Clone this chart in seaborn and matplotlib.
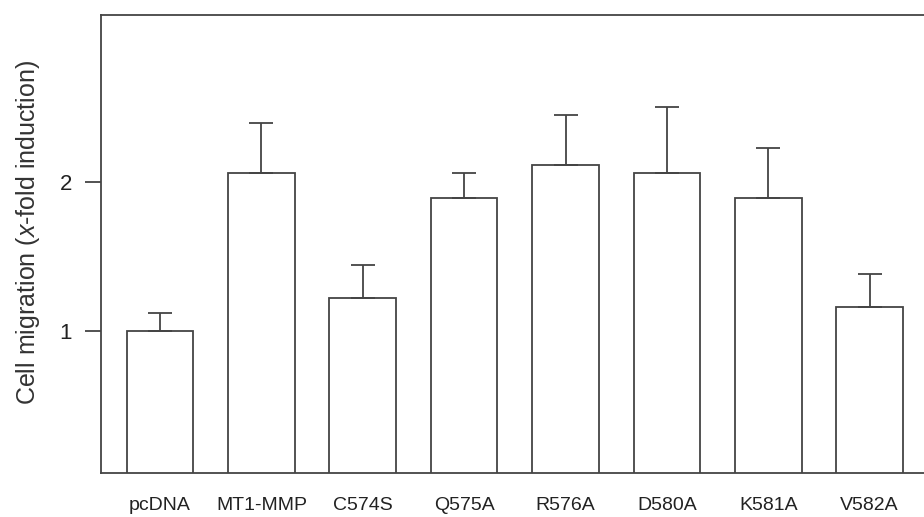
import matplotlib
matplotlib.use("Agg")
import matplotlib.pyplot as plt
import seaborn as sns

# data
constructs = ["pcDNA", "MT1-MMP", "C574S", "Q575A", "R576A", "D580A", "K581A", "V582A"]
migration = [1.00, 2.06, 1.22, 1.89, 2.11, 2.06, 1.89, 1.165]
upper_err = [0.12, 0.33, 0.225, 0.17, 0.335, 0.44, 0.335, 0.22]
ytick_vals = [1, 2]

sns.set_style("ticks")
plt.rcParams["font.family"] = ["Liberation Sans", "DejaVu Sans"]
plt.rcParams["mathtext.fontset"] = "custom"
plt.rcParams["mathtext.it"] = "Liberation Sans:italic"
plt.rcParams["mathtext.rm"] = "Liberation Sans"

line_col = "#444444"

fig = plt.figure(figsize=(9.24, 5.17), dpi=100)
ax = fig.add_axes([101 / 924, 1 - 473 / 517, 823 / 924, 458.3 / 517])

sns.barplot(x=constructs, y=migration, color="white", edgecolor=line_col,
            linewidth=1.3, width=0.658, saturation=1, ax=ax)

ax.errorbar(range(len(constructs)), migration,
            yerr=[[0] * len(upper_err), upper_err],
            fmt="none", ecolor=line_col, elinewidth=1.3,
            capsize=8.75, capthick=1.3, zorder=3)

ax.set_xlim(-0.582, 7.536)
ax.set_ylim(0.053, 3.116)
ax.set_yticks(ytick_vals)
ax.set_yticklabels([str(v) for v in ytick_vals])

ax.tick_params(axis="y", length=11.5, width=1.3, color=line_col, pad=9.5,
               labelsize=16, labelcolor="#222222")
ax.tick_params(axis="x", length=0, pad=17, labelsize=14, labelcolor="#222222")

for side in ["left", "bottom", "top"]:
    ax.spines[side].set_color(line_col)
    ax.spines[side].set_linewidth(1.3)
ax.spines["right"].set_visible(False)

ax.set_ylabel("Cell migration ($\\it{x}$-fold induction)", fontsize=18, color="#333333")
ax.yaxis.set_label_coords(-0.0717, 0.525)
ax.set_xlabel("")

fig.savefig("out.png", dpi=100)
